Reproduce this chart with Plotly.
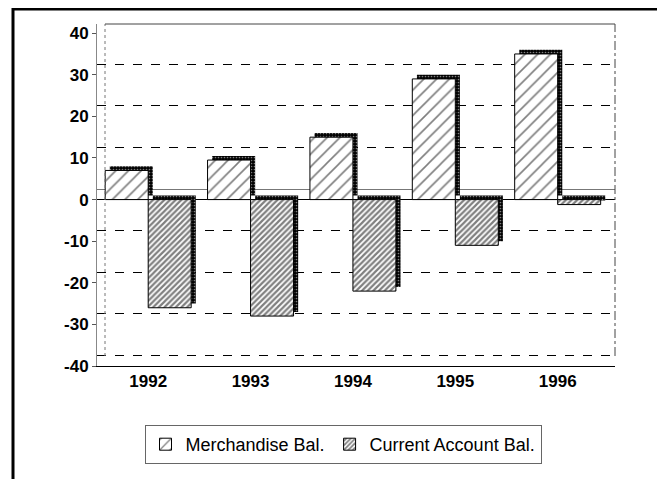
import plotly.graph_objects as go

years = ["1992", "1993", "1994", "1995", "1996"]
merchandise = [7, 9.5, 15, 29, 35]
current_account = [-26, -28, -22, -11, -1.2]
y_ticks = [-40, -30, -20, -10, 0, 10, 20, 30, 40]
y_tick_labels = ["-40", "-30", "-20", "-10", "0", "10", "20", "30", "40"]

W = 0.42      # bar width (category units)
DX = 0.045    # 3D depth shift, horizontal
DY = 1.0      # 3D depth shift, vertical (data units)

shadow_marker = dict(color="black",
                     pattern=dict(shape=".", fgcolor="white", bgcolor="black",
                                  size=3, solidity=0.25),
                     line=dict(width=0))

fig = go.Figure()
# dummy trace so the back-wall grid axis is drawn
fig.add_trace(go.Scatter(x=[years[0]], y=[0], yaxis="y2", mode="markers",
                         marker=dict(opacity=0), hoverinfo="skip", showlegend=False))
# depth shadows
fig.add_trace(go.Bar(x=years, y=merchandise, base=DY, offset=-W + DX, width=W,
                     marker=shadow_marker, showlegend=False, hoverinfo="skip"))
fig.add_trace(go.Bar(x=years, y=current_account, base=DY, offset=DX, width=W,
                     marker=shadow_marker, showlegend=False, hoverinfo="skip"))
# front faces
fig.add_trace(go.Bar(x=years, y=merchandise, offset=-W, width=W,
                     name="Merchandise Bal.",
                     marker=dict(color="white",
                                 pattern=dict(shape="/", fgcolor="black", bgcolor="white",
                                              size=9, solidity=0.18),
                                 line=dict(color="black", width=1))))
fig.add_trace(go.Bar(x=years, y=current_account, offset=0, width=W,
                     name="Current Account Bal.",
                     marker=dict(color="white",
                                 pattern=dict(shape="/", fgcolor="black", bgcolor="white",
                                              size=4, solidity=0.55),
                                 line=dict(color="black", width=1))))

shift = 2.5
yr = [-40, 42.2]
fam = "Liberation Sans, Arial, sans-serif"

# page is rendered with an 8px body margin; figure sized to fit the window
PW, PH = 657, 471
L, T, B = 89, 16, 113
R = PW - 607
plot_w = PW - L - R
plot_h = PH - T - B

fig.update_layout(
    width=PW, height=PH,
    margin=dict(l=L, r=R, t=T, b=B),
    paper_bgcolor="white", plot_bgcolor="white",
    barmode="overlay",
    font=dict(family=fam, size=14, color="black"),
    xaxis=dict(type="category", range=[-0.5, 4.56], showgrid=False,
               showline=True, linecolor="black", linewidth=1,
               tickfont=dict(family=fam, size=17, color="black", weight="bold"),
               ticks=""),
    yaxis=dict(range=yr, tickvals=y_ticks, ticktext=y_tick_labels, showgrid=False,
               zeroline=True, zerolinecolor="black", zerolinewidth=1,
               showline=True, linecolor="#888", linewidth=1,
               ticks="outside", ticklen=4, tickcolor="#555",
               tickfont=dict(family=fam, size=17, color="black", weight="bold")),
    yaxis2=dict(overlaying="y", range=[yr[0] - shift, yr[1] - shift],
                tickvals=[-40, -30, -20, -10, 0, 10, 20, 30],
                showticklabels=False, showgrid=True, gridcolor="black",
                griddash="dash", gridwidth=1,
                zeroline=True, zerolinecolor="#777", zerolinewidth=1),
    legend=dict(orientation="h", x=(335 - L) / plot_w, xanchor="center",
                y=(358 - 417) / plot_h, yanchor="top",
                bordercolor="#666", borderwidth=1, bgcolor="white",
                font=dict(family=fam, size=18, color="black"),
                itemwidth=30, traceorder="normal"),
    showlegend=True,
)

wall_x = 8 / plot_w
wall_bot = 10 / plot_h
fig.add_shape(type="line", xref="paper", yref="paper", x0=wall_x, x1=wall_x,
              y0=wall_bot, y1=1, line=dict(color="#777", width=1, dash="dot"))
fig.add_shape(type="line", xref="paper", yref="paper", x0=1, x1=1,
              y0=wall_bot, y1=1, line=dict(color="#444", width=1, dash="dashdot"))
fig.add_shape(type="line", xref="paper", yref="paper", x0=wall_x, x1=1,
              y0=1, y1=1, line=dict(color="#444", width=1))
# outer frame
fig.add_shape(type="rect", xref="paper", yref="paper",
              x0=(5 - L) / plot_w, x1=(655 - L) / plot_w,
              y0=(358 - 480) / plot_h, y1=(358 - 1) / plot_h,
              line=dict(color="black", width=3), layer="below")

fig.write_html("out.html")
